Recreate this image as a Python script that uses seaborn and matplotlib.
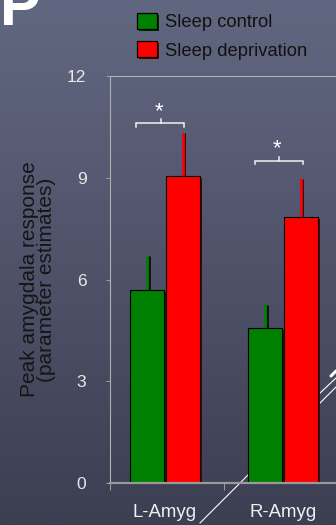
import numpy as np
import pandas as pd
import matplotlib
matplotlib.use("Agg")
import matplotlib.pyplot as plt
import matplotlib.patheffects as pe
import seaborn as sns

plt.rcParams['font.family'] = ['Liberation Sans', 'DejaVu Sans']

# ---- data ----
regions = ["L-Amyg", "R-Amyg"]
conditions = ["Sleep control", "Sleep deprivation"]
control_mean = [5.69, 4.57]
control_sem = [1.01, 0.71]
deprivation_mean = [9.06, 7.84]
deprivation_sem = [1.27, 1.15]
y_ticks = [0, 3, 6, 9, 12]
ylabel = "Peak amygdala response\n(parameter estimates)"
colors = {"Sleep control": "#008000", "Sleep deprivation": "#ff0000"}

df = pd.DataFrame({
    "region": regions * 2,
    "condition": [conditions[0]] * 2 + [conditions[1]] * 2,
    "value": control_mean + deprivation_mean,
    "sem": control_sem + deprivation_sem,
})

W, H = 336, 525
fig = plt.figure(figsize=(W / 100, H / 100), dpi=100)

# slide-style background with a vertical gradient and light streaks
bg = fig.add_axes([0, 0, 1, 1], zorder=-5)
t = np.linspace(0, 1, 256)[:, None, None]
top = np.array([98, 103, 129]) / 255
bot = np.array([60, 62, 82]) / 255
img = top[None, None, :] * (1 - t) + bot[None, None, :] * t
bg.imshow(img, aspect='auto', extent=[0, W, H, 0])
bg.plot([200, 336], [523, 387], color='white', lw=0.8)
bg.plot([319, 336], [394, 378], color='white', lw=0.8)
bg.plot([331, 336], [376, 371], color='white', lw=2.2, solid_capstyle='round')
bg.set_xlim(0, W)
bg.set_ylim(H, 0)
bg.axis('off')

# slide title running off the top-left corner
fig.text(42 / W, 1 - 25 / H, "EP", color='white', fontsize=44, fontweight='bold',
         ha='right', va='baseline')

ax = fig.add_axes([110 / W, 42 / H, 226 / W, 407 / H])
ax.patch.set_alpha(0)

sns.barplot(data=df, x="region", y="value", hue="condition", order=regions,
            hue_order=conditions, palette=colors, width=0.6, gap=0.05,
            errorbar=None, edgecolor='black', linewidth=0.8, saturation=1,
            ax=ax)

for bar in ax.patches:
    bar.set_zorder(2)
    bar.set_path_effects([pe.SimplePatchShadow(offset=(1.5, -1.5), rho=0.35, alpha=1),
                          pe.Normal()])

# one-sided (upper) error bars
for cont, cond in zip(ax.containers, conditions):
    sub = df[df.condition == cond].set_index('region').loc[regions]
    for bar, err in zip(cont, sub['sem']):
        x = bar.get_x() + bar.get_width() / 2
        y = bar.get_height()
        eb = ax.errorbar(x, y, yerr=[[0], [err]], fmt='none', ecolor=colors[cond],
                         elinewidth=2.0, capsize=0, zorder=1)
        for ln in eb.lines[2]:
            ln.set_path_effects([pe.SimpleLineShadow(offset=(1, -0.5), rho=0.5, alpha=0.8),
                                 pe.Normal()])

# significance brackets
brackets = [(-0.246, 0.161, 10.60, -0.036), (0.763, 1.169, 9.50, 0.964)]
for x0, x1, yb, xm in brackets:
    ax.plot([x0, x0, x1, x1], [yb - 0.09, yb, yb, yb - 0.09], color='#f2f2f2', lw=1.1,
            solid_joinstyle='miter')
    ax.plot([xm, xm], [yb, yb + 0.12], color='#f2f2f2', lw=1.1)
    ax.text(xm - 0.015, yb + 0.2, "*", color='white', fontsize=16, ha='center',
            va='baseline')

ax.set_xlim(-0.466, 1.449)
ax.set_ylim(0, 12)
ax.set_yticks(y_ticks)
ax.set_xticks([-0.466, 0.5], minor=True)
ax.set_xlabel('')
ax.set_ylabel('')
ax.tick_params(axis='x', which='major', length=0, pad=15, labelsize=13.4,
               labelcolor='#f0f0f0')
ax.tick_params(axis='x', which='minor', length=5, width=0.8, color='#9a9a9a',
               direction='out')
ax.tick_params(axis='y', length=3, width=0.7, color='#a0a0a0', pad=14, labelsize=12.5,
               labelcolor='#e8e8e8')
for side in ['left', 'top']:
    ax.spines[side].set_color('#b0b0b0')
    ax.spines[side].set_linewidth(0.8)
ax.spines['bottom'].set_color('#9a9a9a')
ax.spines['bottom'].set_linewidth(1.6)
ax.spines['right'].set_visible(False)

fig.text(38 / W, 1 - 279.5 / H, ylabel, rotation=90, ha='center', va='center',
         fontsize=15, linespacing=0.85, color='#151515')

handles, labels = ax.get_legend_handles_labels()
leg = ax.legend(handles, labels, loc='upper left', bbox_to_anchor=(137 / W, 1 - 13 / H),
                bbox_transform=fig.transFigure, frameon=False, fontsize=13.2,
                handlelength=1.1, handleheight=0.95, handletextpad=0.45,
                labelspacing=0.55, borderpad=0, borderaxespad=0, labelcolor='#111111')
for p in leg.get_patches():
    p.set_edgecolor('black')
    p.set_linewidth(0.9)
    p.set_path_effects([pe.SimplePatchShadow(offset=(1.5, -1.5), rho=0.35, alpha=1),
                        pe.Normal()])

fig.savefig("out.png", dpi=100)
